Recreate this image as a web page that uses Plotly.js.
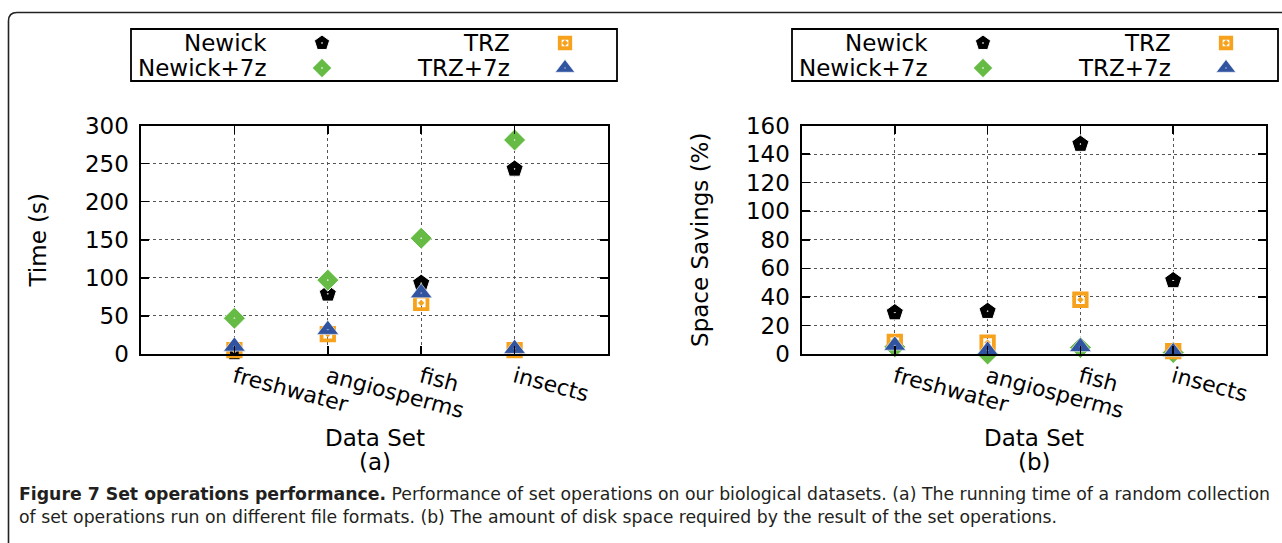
<!DOCTYPE html>
<html>
<head>
<meta charset="utf-8">
<script src="https://cdn.plot.ly/plotly-3.0.1.min.js"></script>
<style>html,body{margin:0;padding:0;background:#fff;}#chart{width:1282px;height:543px;}</style>
</head>
<body>
<div id="chart"></div>
<script>
// ---- data ----
const categories = ["freshwater", "angiosperms", "fish", "insects"];
const seriesNames = ["Newick", "Newick+7z", "TRZ", "TRZ+7z"];
// (a) running time, seconds
const timeNewick    = [2, 79, 93, 243];
const timeNewick7z  = [47, 97, 152, 281];
const timeTRZ       = [5, 26, 67, 5];
const timeTRZ7z     = [10, 32, 80, 7];
// (b) space savings, percent
const spaceNewick   = [29, 30, 147, 51.5];
const spaceNewick7z = [5, 0, 4.5, 1];
const spaceTRZ      = [8.5, 8, 38, 2];
const spaceTRZ7z    = [6, 2.5, 5, 1.5];
const timeTicks  = [0, 50, 100, 150, 200, 250, 300];
const spaceTicks = [0, 20, 40, 60, 80, 100, 120, 140, 160];
const panelLabels = ["(a)", "(b)"];
const xTitle = "Data Set";
const yTitles = ["Time (s)", "Space Savings (%)"];

// ---- styles ----
const FONT = "DejaVu Sans, sans-serif";
const FS = 23;
const styles = [
  {symbol: "pentagon-dot", size: 18, color: "#000000", line: {color: "#ffffff", width: 1}},
  {symbol: "diamond-dot", size: 17, color: "#66bb44", line: {color: "#ffffff", width: 1}},
  {symbol: "square-open-dot", size: 12.5, color: "#f7a21d", line: {color: "#f7a21d", width: 3.8}},
  {symbol: "triangle-up-dot", size: 19, color: "#3154a0", line: {color: "#ffffff", width: 0.6}}
];

const timeSeries = [timeNewick, timeNewick7z, timeTRZ, timeTRZ7z];
const spaceSeries = [spaceNewick, spaceNewick7z, spaceTRZ, spaceTRZ7z];

const traces = [];
timeSeries.forEach((vals, i) => {
  traces.push({type: "scatter", mode: "markers", name: seriesNames[i], x: categories, y: vals,
    xaxis: "x", yaxis: "y", marker: styles[i], showlegend: false, cliponaxis: false});
});
spaceSeries.forEach((vals, i) => {
  traces.push({type: "scatter", mode: "markers", name: seriesNames[i], x: categories, y: vals,
    xaxis: "x2", yaxis: "y2", marker: styles[i], showlegend: false, cliponaxis: false});
});

// ---- custom legends (key glyphs on a full-page pixel overlay axis) ----
const legendOrigins = [131, 792];          // left edges of the two legend boxes
const keyCols = [191, 434];                // marker offset inside box for the two columns
const keyRows = [43, 68];
const legendLayout = [[0, 0], [1, 0], [0, 1], [1, 1]]; // [row, col] for each series
const annotations = [];
const shapes = [];
legendOrigins.forEach(ox => {
  shapes.push({type: "rect", xref: "x3", yref: "y3", x0: ox, x1: ox + 486, y0: 29, y1: 81,
    line: {color: "#000", width: 1.8}, fillcolor: "rgba(0,0,0,0)"});
  seriesNames.forEach((nm, i) => {
    const [r, c] = legendLayout[i];
    annotations.push({xref: "x3", yref: "y3", x: ox + keyCols[c] - 53, y: keyRows[r], text: nm,
      showarrow: false, xanchor: "right", yanchor: "middle", font: {family: FONT, size: FS, color: "#000"}});
    const st = Object.assign({}, styles[i]);
    st.size = styles[i].size - 2;
    traces.push({type: "scatter", mode: "markers", x: [ox + keyCols[c]], y: [keyRows[r]],
      xaxis: "x3", yaxis: "y3", marker: st, showlegend: false, hoverinfo: "skip", name: nm});
  });
});

// x-axis titles and panel labels
["x", "x2"].forEach((ax, k) => {
  annotations.push({xref: ax + " domain", yref: "y3", x: 0.5, y: 438, text: xTitle, showarrow: false,
    xanchor: "center", yanchor: "middle", font: {family: FONT, size: FS, color: "#000"}});
  annotations.push({xref: ax + " domain", yref: "y3", x: 0.5, y: 462, text: panelLabels[k], showarrow: false,
    xanchor: "center", yanchor: "middle", font: {family: FONT, size: FS, color: "#000"}});
});

// outer rounded frame
shapes.push({type: "path", xref: "x3", yref: "y3",
  path: "M 8.5 560 L 8.5 21 Q 8.5 12.5 17 12.5 L 1300 12.5", line: {color: "#222", width: 1.6}});

// caption
annotations.push({xref: "x3", yref: "y3", x: 17, y: 494, xanchor: "left", yanchor: "middle", align: "left",
  showarrow: false,
  text: "<b>Figure 7 Set operations performance.</b> Performance of set operations on our biological datasets. (a) The running time of a random collection",
  font: {family: FONT, size: 17.3, color: "#231f20"}});
annotations.push({xref: "x3", yref: "y3", x: 17, y: 517, xanchor: "left", yanchor: "middle", align: "left",
  showarrow: false,
  text: "of set operations run on different file formats. (b) The amount of disk space required by the result of the set operations.",
  font: {family: FONT, size: 17.3, color: "#231f20"}});

function yAxis(domainX, ticks, range, title, standoff) {
  return {
    anchor: domainX, domain: [1 - 354 / 543, 1 - 125.5 / 543], range: range,
    tickvals: ticks, ticktext: ticks.map(String), ticks: "inside", ticklen: 8, tickwidth: 1.5,
    tickcolor: "#000", showline: true, linecolor: "#000", linewidth: 1.6, mirror: "ticks",
    showgrid: true, gridcolor: "#555", griddash: "dot", gridwidth: 1, zeroline: false,
    tickfont: {family: FONT, size: FS, color: "#000"}, ticklabelstandoff: 6,
    title: {text: title, font: {family: FONT, size: FS, color: "#000"}, standoff: standoff},
    automargin: false, fixedrange: true
  };
}
function xAxis(anchorY, domain) {
  return {
    anchor: anchorY, domain: domain, type: "category", categoryarray: categories, range: [-1, 4],
    ticks: "inside", ticklen: 8, tickwidth: 1.5, tickcolor: "#000", showline: true, linecolor: "#000",
    linewidth: 1.6, mirror: "ticks", showgrid: true, gridcolor: "#555", griddash: "dot", gridwidth: 1,
    tickangle: 15, tickfont: {family: FONT, size: 22, color: "#000"}, ticklabelstandoff: 0,
    automargin: false, fixedrange: true
  };
}

const layout = {
  width: 1282, height: 543, margin: {l: 0, r: 0, t: 0, b: 0},
  paper_bgcolor: "#fff", plot_bgcolor: "rgba(0,0,0,0)", showlegend: false,
  xaxis: xAxis("y", [141 / 1282, 608 / 1282]),
  yaxis: yAxis("x", timeTicks, [0, 300], yTitles[0], 32),
  xaxis2: xAxis("y2", [802 / 1282, 1266 / 1282]),
  yaxis2: yAxis("x2", spaceTicks, [0, 160], yTitles[1], 31),
  xaxis3: {anchor: "y3", domain: [0, 1], range: [0, 1282], visible: false, fixedrange: true},
  yaxis3: {anchor: "x3", domain: [0, 1], range: [543, 0], visible: false, fixedrange: true},
  shapes: shapes, annotations: annotations
};

Plotly.newPlot("chart", traces, layout, {staticPlot: true, displayModeBar: false});
</script>
</body>
</html>
